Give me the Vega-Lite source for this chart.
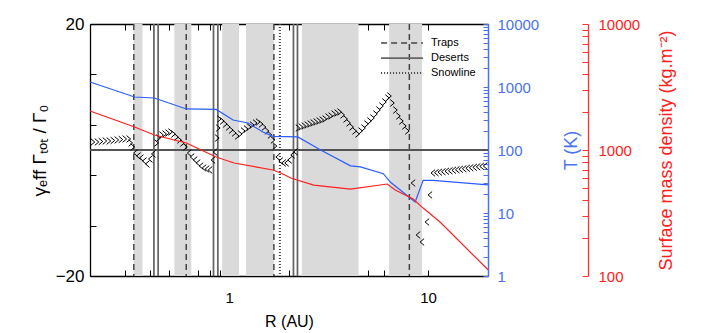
{
  "$schema": "https://vega.github.io/schema/vega-lite/v6.json",
  "width": 398,
  "height": 252,
  "autosize": "none",
  "padding": {"left": 90, "top": 24, "right": 215, "bottom": 57},
  "config": {
    "view": {"stroke": null},
    "font": "Liberation Sans",
    "axis": {"labelFont": "Liberation Sans", "titleFont": "Liberation Sans", "labelFontSize": 15, "titleFontSize": 16, "titleFontWeight": "normal", "grid": false, "domainWidth": 1.3}
  },
  "datasets": {
    "bands": [
      {"r0": 0.331, "r1": 0.367}, {"r0": 0.531, "r1": 0.646}, {"r0": 0.923, "r1": 1.122},
      {"r0": 1.216, "r1": 1.679}, {"r0": 2.32, "r1": 4.47}, {"r0": 6.37, "r1": 9.33}
    ],
    "rules": [
      {"R": 0.332, "kind": "Traps"}, {"R": 0.609, "kind": "Traps"}, {"R": 1.679, "kind": "Traps"}, {"R": 8.05, "kind": "Traps"},
      {"R": 0.419, "kind": "Deserts"}, {"R": 0.44, "kind": "Deserts"}, {"R": 0.835, "kind": "Deserts"}, {"R": 0.878, "kind": "Deserts"},
      {"R": 2.106, "kind": "Deserts"}, {"R": 2.206, "kind": "Deserts"},
      {"R": 1.8, "kind": "Snowline"}
    ],
    "torque": [
      {"R": 0.2065, "g": 1.27}, {"R": 0.2163, "g": 1.27}, {"R": 0.2265, "g": 1.35}, {"R": 0.2371, "g": 1.43},
      {"R": 0.2483, "g": 1.43}, {"R": 0.26, "g": 1.51}, {"R": 0.2723, "g": 1.59}, {"R": 0.2851, "g": 1.67},
      {"R": 0.2985, "g": 1.75}, {"R": 0.3126, "g": 1.75}, {"R": 0.3199, "g": 1.11}, {"R": 0.3273, "g": 0.48},
      {"R": 0.3388, "g": -0.48}, {"R": 0.3508, "g": -0.95}, {"R": 0.3631, "g": -1.27}, {"R": 0.3758, "g": -1.75},
      {"R": 0.389, "g": -2.22}, {"R": 0.4027, "g": -1.43}, {"R": 0.4169, "g": -0.63},
      {"R": 0.4315, "g": 1.11}, {"R": 0.4416, "g": 1.9}, {"R": 0.4571, "g": 2.38}, {"R": 0.4732, "g": 2.54},
      {"R": 0.4898, "g": 2.7}, {"R": 0.507, "g": 2.86}, {"R": 0.5248, "g": 2.54}, {"R": 0.5433, "g": 2.06},
      {"R": 0.5623, "g": 1.59}, {"R": 0.5821, "g": 1.11}, {"R": 0.6026, "g": 0.48},
      {"R": 0.631, "g": -0.48}, {"R": 0.6531, "g": -1.11}, {"R": 0.6761, "g": -1.59}, {"R": 0.6998, "g": -2.06},
      {"R": 0.7244, "g": -2.54}, {"R": 0.7499, "g": -2.86}, {"R": 0.7762, "g": -3.02}, {"R": 0.8035, "g": -3.17},
      {"R": 0.8318, "g": -1.59}, {"R": 0.8511, "g": -0.32},
      {"R": 0.871, "g": 1.9}, {"R": 0.881, "g": 3.49}, {"R": 0.8913, "g": 4.92}, {"R": 0.9226, "g": 4.6},
      {"R": 0.955, "g": 4.13}, {"R": 0.9886, "g": 3.65}, {"R": 1.0233, "g": 3.17}, {"R": 1.0593, "g": 2.7},
      {"R": 1.0965, "g": 2.22}, {"R": 1.135, "g": 2.54}, {"R": 1.1749, "g": 3.02}, {"R": 1.2162, "g": 3.33},
      {"R": 1.2589, "g": 3.65}, {"R": 1.3032, "g": 3.97}, {"R": 1.349, "g": 4.29}, {"R": 1.3964, "g": 4.44},
      {"R": 1.4454, "g": 4.13}, {"R": 1.4962, "g": 3.65}, {"R": 1.5488, "g": 3.02}, {"R": 1.6032, "g": 2.38},
      {"R": 1.6596, "g": 1.59}, {"R": 1.6982, "g": 0.63},
      {"R": 1.7579, "g": -1.11}, {"R": 1.8197, "g": -1.75}, {"R": 1.8836, "g": -2.06}, {"R": 1.9498, "g": -2.06},
      {"R": 2.0184, "g": -1.59}, {"R": 2.0893, "g": -0.79}, {"R": 2.1627, "g": -0.3},
      {"R": 2.2131, "g": 3.49}, {"R": 2.2909, "g": 3.65}, {"R": 2.3714, "g": 3.81}, {"R": 2.4547, "g": 3.97},
      {"R": 2.541, "g": 4.13}, {"R": 2.6303, "g": 4.29}, {"R": 2.7227, "g": 4.44}, {"R": 2.8184, "g": 4.6},
      {"R": 2.9174, "g": 4.76}, {"R": 3.02, "g": 4.92}, {"R": 3.1261, "g": 5.24}, {"R": 3.2359, "g": 5.4},
      {"R": 3.3497, "g": 5.71}, {"R": 3.4674, "g": 5.87}, {"R": 3.5892, "g": 6.03},
      {"R": 3.7154, "g": 5.56}, {"R": 3.8459, "g": 4.92}, {"R": 3.9811, "g": 4.29}, {"R": 4.121, "g": 3.65},
      {"R": 4.2658, "g": 3.02}, {"R": 4.4157, "g": 2.54},
      {"R": 4.5709, "g": 3.02}, {"R": 4.7315, "g": 3.49}, {"R": 4.8978, "g": 4.13}, {"R": 5.0699, "g": 4.6},
      {"R": 5.2481, "g": 5.08}, {"R": 5.4325, "g": 5.71}, {"R": 5.6234, "g": 6.35}, {"R": 5.821, "g": 6.98},
      {"R": 6.0256, "g": 7.62}, {"R": 6.2373, "g": 8.25}, {"R": 6.3826, "g": 8.57},
      {"R": 6.6069, "g": 7.46}, {"R": 6.8391, "g": 6.35}, {"R": 7.0795, "g": 5.4}, {"R": 7.3282, "g": 4.6},
      {"R": 7.5858, "g": 3.81}, {"R": 7.8524, "g": 3.02},
      {"R": 8.414, "g": -5.24}, {"R": 8.9125, "g": -13.49}, {"R": 9.3325, "g": -14.6}, {"R": 9.8855, "g": -11.43},
      {"R": 10.233, "g": -7.14},
      {"R": 10.593, "g": -3.65}, {"R": 11.03, "g": -3.6}, {"R": 11.482, "g": -3.52}, {"R": 11.96, "g": -3.45},
      {"R": 12.445, "g": -3.37}, {"R": 12.96, "g": -3.3}, {"R": 13.49, "g": -3.22}, {"R": 14.05, "g": -3.14},
      {"R": 14.62, "g": -3.06}, {"R": 15.22, "g": -2.98}, {"R": 15.85, "g": -2.9}, {"R": 16.5, "g": -2.82},
      {"R": 17.18, "g": -2.75}, {"R": 17.88, "g": -2.67}, {"R": 18.62, "g": -2.6}, {"R": 19.39, "g": -2.54}
    ],
    "temp": [
      {"R": 0.2, "T": 1200}, {"R": 0.335, "T": 694}, {"R": 0.421, "T": 669}, {"R": 0.61, "T": 448},
      {"R": 0.861, "T": 440}, {"R": 1.047, "T": 299}, {"R": 1.245, "T": 268}, {"R": 1.479, "T": 193},
      {"R": 1.66, "T": 165}, {"R": 2.213, "T": 161}, {"R": 2.884, "T": 100}, {"R": 4.074, "T": 56},
      {"R": 4.571, "T": 54}, {"R": 5.957, "T": 42}, {"R": 6.457, "T": 31}, {"R": 8.61, "T": 15},
      {"R": 9.441, "T": 33}, {"R": 10.59, "T": 33}, {"R": 20, "T": 28}
    ],
    "sigma": [
      {"R": 0.2, "S": 2040}, {"R": 0.335, "S": 1523}, {"R": 0.421, "S": 1315}, {"R": 0.61, "S": 1137},
      {"R": 0.861, "S": 880}, {"R": 1.059, "S": 788}, {"R": 1.66, "S": 694}, {"R": 1.82, "S": 657},
      {"R": 2.042, "S": 599}, {"R": 2.661, "S": 527}, {"R": 4.074, "S": 490}, {"R": 6.237, "S": 537},
      {"R": 6.839, "S": 482}, {"R": 8.414, "S": 408}, {"R": 9.441, "S": 346}, {"R": 11.48, "S": 268},
      {"R": 20, "S": 112}
    ]
  },
  "layer": [
    {
      "layer": [
        {
          "data": {"name": "bands"},
          "mark": {"type": "rect", "color": "#dadada"},
          "encoding": {
            "x": {"field": "r0", "type": "quantitative", "title": "R (AU)", "scale": {"type": "log", "domain": [0.2, 20], "nice": false},
              "axis": {"orient": "bottom", "title": "R (AU)", "titlePadding": 8, "values": [0.2,0.3,0.4,0.5,0.6,0.7,0.8,0.9,1,2,3,4,5,6,7,8,9,10,20],
                "labelExpr": "datum.value == 1 || datum.value == 10 ? datum.value + '' : ''", "ticks": true, "tickWidth": 1, "tickOpacity": 1,
                "tickSize": -6, "labelOverlap": false,
                "labelPadding": 20, "domainColor": "black", "tickColor": "black", "labelColor": "black", "titleColor": "black"}},
            "x2": {"field": "r1"}
          }
        },
        {
          "data": {"name": "rules"},
          "mark": {"type": "rule"},
          "encoding": {
            "x": {"field": "R", "type": "quantitative", "title": "R (AU)",
              "axis": {"orient": "bottom", "title": "R (AU)", "titlePadding": 8, "values": [0.2,0.3,0.4,0.5,0.6,0.7,0.8,0.9,1,2,3,4,5,6,7,8,9,10,20],
                "labelExpr": "datum.value == 1 || datum.value == 10 ? datum.value + '' : ''", "ticks": true, "tickWidth": 1, "tickOpacity": 1,
                "tickSize": -6, "labelOverlap": false,
                "labelPadding": 20, "domainColor": "black", "tickColor": "black", "labelColor": "black", "titleColor": "black"}},
            "strokeDash": {"field": "kind", "type": "nominal", "scale": {"domain": ["Traps", "Deserts", "Snowline"], "range": [[6, 4], [1, 0], [1, 2]]},
              "legend": {"orient": "top-right", "title": null, "symbolType": "stroke", "symbolSize": 1750, "clipHeight": 14, "labelFontSize": 11, "labelFont": "Liberation Sans", "rowPadding": 1, "offset": 8, "padding": 4, "labelOffset": 7}},
            "color": {"field": "kind", "type": "nominal", "scale": {"domain": ["Traps", "Deserts", "Snowline"], "range": ["#444444", "#666666", "#444444"]}},
            "strokeWidth": {"field": "kind", "type": "nominal", "scale": {"domain": ["Traps", "Deserts", "Snowline"], "range": [1.5, 2, 1]}}
          }
        },
        {
          "data": {"name": "torque"},
          "transform": [{"calculate": "datum.g >= 0 ? 'out' : 'in'", "as": "dir"}],
          "layer": [
            {
              "mark": {"type": "rule", "color": "#555555", "strokeWidth": 1.5},
              "encoding": {"y": {"datum": 0, "type": "quantitative"}}
            },
            {
              "mark": {"type": "point", "filled": false, "size": 45, "strokeWidth": 1, "color": "black", "opacity": 1},
              "encoding": {
                "x": {"field": "R", "type": "quantitative", "title": "R (AU)",
                  "axis": {"orient": "bottom", "title": "R (AU)", "titlePadding": 8, "values": [0.2,0.3,0.4,0.5,0.6,0.7,0.8,0.9,1,2,3,4,5,6,7,8,9,10,20],
                    "labelExpr": "datum.value == 1 || datum.value == 10 ? datum.value + '' : ''", "ticks": true, "tickWidth": 1, "tickOpacity": 1,
                    "tickSize": -6, "labelOverlap": false,
                    "labelPadding": 20, "domainColor": "black", "tickColor": "black", "labelColor": "black", "titleColor": "black"}},
                "y": {"field": "g", "type": "quantitative", "title": "γₑff Γₜₒₜ / Γ₀", "scale": {"domain": [-20, 20], "nice": false},
                  "axis": {"orient": "left", "title": "γₑff Γₜₒₜ / Γ₀", "titleFontSize": 19, "titlePadding": 6,
                    "values": [-20,-18,-16,-14,-12,-10,-8,-6,-4,-2,0,2,4,6,8,10,12,14,16,18,20],
                    "labelExpr": "datum.value % 10 == 0 ? datum.label : ''", "ticks": true, "tickWidth": 1, "tickOpacity": 1,
                    "tickSize": -6, "labelOverlap": false,
                    "labelPadding": 12, "labelFontSize": 17, "domainColor": "black", "tickColor": "black", "labelColor": "black", "titleColor": "black"}},
                "shape": {"field": "dir", "type": "nominal", "scale": {"domain": ["out", "in"], "range": ["M-0.6,-1L0.6,0L-0.6,1", "M0.6,-1L-0.6,0L0.6,1"]}, "legend": null}
              }
            }
          ]
        }
      ]
    },
    {
      "data": {"name": "temp"},
      "mark": {"type": "line", "color": "#2a5cff", "strokeWidth": 1.2},
      "encoding": {
        "x": {"field": "R", "type": "quantitative",
          "axis": {"orient": "top", "title": null, "labels": false, "values": [0.2,0.3,0.4,0.5,0.6,0.7,0.8,0.9,1,2,3,4,5,6,7,8,9,10,20], "ticks": true, "tickWidth": 1, "tickOpacity": 1,
            "tickSize": -6, "domainColor": "black", "tickColor": "black"}},
        "y": {"field": "T", "type": "quantitative", "scale": {"type": "log", "domain": [1, 10000], "nice": false},
          "axis": {"orient": "right", "title": "T (K)", "titleAngle": 270, "titleFontSize": 18, "titleColor": "#4a72f0", "titlePadding": 42,
            "values": [1,2,3,4,5,6,7,8,9,10,20,30,40,50,60,70,80,90,100,200,300,400,500,600,700,800,900,1000,2000,3000,4000,5000,6000,7000,8000,9000,10000],
            "labelExpr": "indexof([1,10,100,1000,10000], datum.value) >= 0 ? datum.value + '' : ''", "ticks": true, "tickWidth": 1, "tickOpacity": 1,
            "tickSize": -5, "labelOverlap": false,
            "labelPadding": 14, "domainColor": "#4a72f0", "tickColor": "#4a72f0", "labelColor": "#4a72f0", "domainWidth": 1.5}}
      }
    },
    {
      "data": {"name": "sigma"},
      "mark": {"type": "line", "color": "#ff2020", "strokeWidth": 1.2},
      "encoding": {
        "x": {"field": "R", "type": "quantitative", "axis": null},
        "y": {"field": "S", "type": "quantitative", "scale": {"type": "log", "domain": [100, 10000], "nice": false},
          "axis": {"orient": "right", "offset": 100, "title": "Surface mass density (kg.m⁻²)", "titleAngle": 270, "titleFontSize": 18, "titleColor": "#ff2020", "titlePadding": 36,
            "values": [100,200,300,400,500,600,700,800,900,1000,2000,3000,4000,5000,6000,7000,8000,9000,10000],
            "labelExpr": "indexof([100,1000,10000], datum.value) >= 0 ? datum.value + '' : ''", "ticks": true, "tickWidth": 1, "tickOpacity": 1,
            "tickSize": -6, "labelOverlap": false,
            "labelPadding": 16, "domainColor": "#ff3030", "tickColor": "#ff3030", "labelColor": "#ff2020"}}
      }
    }
  ],
  "resolve": {"scale": {"y": "independent"}, "axis": {"x": "independent"}}
}
